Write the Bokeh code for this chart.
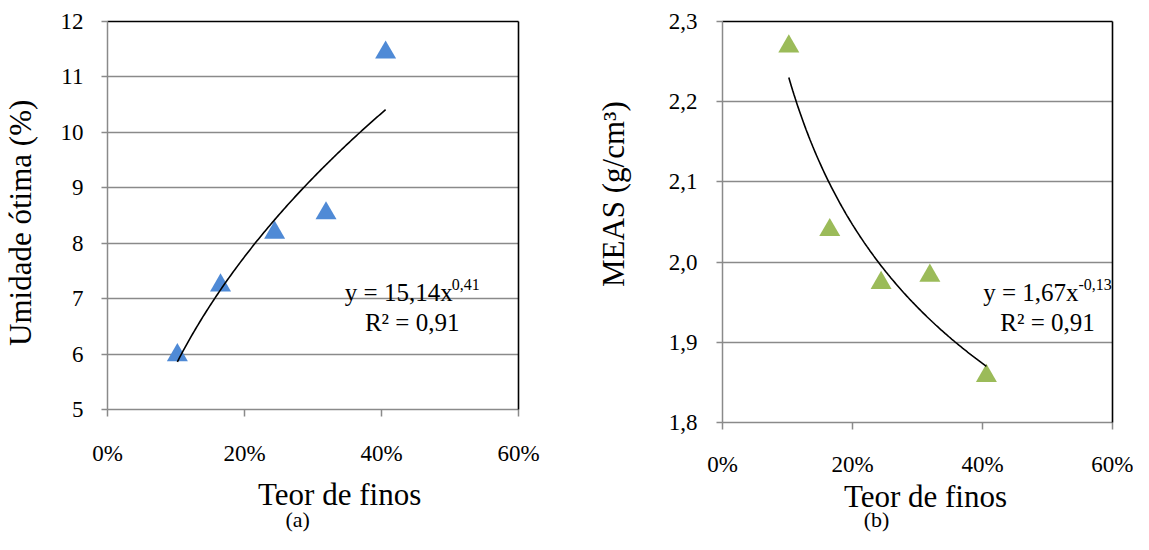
import json
import numpy as np
from bokeh.plotting import figure
from bokeh.layouts import row
from bokeh.models import (FixedTicker, NumeralTickFormatter, CustomJSTickFormatter,
                          LinearAxis, Label)
from bokeh.embed import file_html
from bokeh.resources import INLINE

# ---------------- data ----------------
teor_finos = [0.102, 0.165, 0.244, 0.319, 0.406]
umidade_otima = [5.98, 7.24, 8.19, 8.54, 11.44]
meas = [2.269, 2.040, 1.974, 1.983, 1.858]
x_ticks = [0.0, 0.2, 0.4, 0.6]
umidade_ticks = [5, 6, 7, 8, 9, 10, 11, 12]
meas_ticks = [1.8, 1.9, 2.0, 2.1, 2.2, 2.3]
eq_a = ["y = 15,14x", "0,41", "R² = 0,91"]
eq_b = ["y = 1,67x", "-0,13", "R² = 0,91"]
x_title = "Teor de finos"
y_title_a = "Umidade ótima (%)"
y_title_b = "MEAS (g/cm³)"
captions = ["(a)", "(b)"]

# ---------------- style ----------------
FONT = "Liberation Serif"
GRID = "#8a8a8a"
BLUE = "#4F8AD6"
GREEN = "#9BBB59"
TICK_FS = "23px"
LABEL_FS = "31px"
EQ_FS = "25px"
SUP_FS = "16px"
CAP_FS = "22px"
H = 534
W1 = 570
W2 = 1133 - W1


def power_fit(x, y):
    b, ln_a = np.polyfit(np.log(x), np.log(y), 1)
    xs = np.linspace(min(x), max(x), 150)
    return xs, np.exp(ln_a) * xs ** b


def base_fig(width, yr, ml, mr, mb, yticks, yfmt, xstand, ystand, xtick_out):
    p = figure(width=width, height=H, x_range=(0, 0.6), y_range=yr,
               output_backend="svg", toolbar_location=None,
               min_border_left=ml, min_border_right=mr,
               min_border_top=21, min_border_bottom=mb)
    try:
        p.frame_align = False
    except Exception:
        pass
    p.outline_line_color = None
    p.background_fill_color = "white"
    p.border_fill_color = "white"
    xa = p.xaxis[0]
    xa.ticker = FixedTicker(ticks=x_ticks)
    xa.formatter = NumeralTickFormatter(format="0%")
    ya = p.yaxis[0]
    ya.ticker = FixedTicker(ticks=yticks)
    if yfmt is not None:
        ya.formatter = yfmt
    for ax, st, to in ((xa, xstand, xtick_out), (ya, ystand, 6)):
        ax.axis_line_color = GRID
        ax.axis_line_width = 1.5
        ax.major_tick_line_color = GRID
        ax.major_tick_line_width = 1.5
        ax.major_tick_out = to
        ax.major_tick_in = 0
        ax.minor_tick_line_color = None
        ax.major_label_standoff = st
        ax.major_label_text_font = FONT
        ax.major_label_text_font_size = TICK_FS
        ax.major_label_text_color = "black"
    p.xgrid.visible = False
    p.ygrid.grid_line_color = GRID
    p.ygrid.grid_line_width = 1.3
    p.ygrid[0].ticker = FixedTicker(ticks=yticks)
    for side in ("above", "right"):
        b = LinearAxis(ticker=FixedTicker(ticks=[]), axis_line_color="black",
                       axis_line_width=1.6, major_tick_line_color=None,
                       minor_tick_line_color=None, major_tick_out=0,
                       major_tick_in=0, major_label_standoff=0,
                       major_label_text_font_size="0px")
        p.add_layout(b, side)
    return p


def text_axis(p, side, value, text, size, standoff, vertical=False):
    """An extra, line-less axis whose single tick label carries a title text."""
    ax = LinearAxis(ticker=FixedTicker(ticks=[value]),
                    formatter=CustomJSTickFormatter(
                        code="return " + json.dumps(text, ensure_ascii=False) + ";"),
                    axis_line_color=None, major_tick_line_color=None,
                    minor_tick_line_color=None, major_tick_out=0, major_tick_in=0,
                    minor_tick_out=0, minor_tick_in=0,
                    major_label_text_font=FONT, major_label_text_font_size=size,
                    major_label_text_color="black")
    try:
        ax.major_label_standoff = standoff
    except Exception:
        ax.major_label_standoff = 0
    if vertical:
        ax.major_label_orientation = "vertical"
    p.add_layout(ax, side)


def add_text(p, to_data, px, py, text, size, align="left"):
    x, y = to_data(px, py)
    p.add_layout(Label(x=x, y=y, text=text, text_font=FONT, text_font_size=size,
                       text_color="black", text_align=align,
                       text_baseline="alphabetic"))


# ---------------- chart (a) ----------------
p1 = base_fig(W1, (5, 12), 103, W1 - 103 - 415, H - 419, umidade_ticks, None,
              xstand=24, ystand=18, xtick_out=7)
p1.scatter(teor_finos, umidade_otima, marker="triangle", size=21,
           fill_color=BLUE, line_color=None)
fx, fy = power_fit(teor_finos, umidade_otima)
p1.line(fx, fy, line_color="black", line_width=1.6)


def a_data(px, py):
    # pixel -> data (frame: x 103..518, y 21..419)
    return (px - 103) / 415 * 0.6, 12 - (py - 21) / 398 * 7


add_text(p1, a_data, 342.6, 299, eq_a[0], EQ_FS)
add_text(p1, a_data, 450.5, 290.5, eq_a[1], SUP_FS)
add_text(p1, a_data, 410.6, 330, eq_a[2], EQ_FS, "center")
text_axis(p1, "below", a_data(337.4, 0)[0], x_title, LABEL_FS, 8)
text_axis(p1, "below", a_data(295, 0)[0], captions[0], CAP_FS, -8)
text_axis(p1, "left", a_data(0, 227.5)[1], y_title_a, LABEL_FS, 19, vertical=True)

# ---------------- chart (b) ----------------
yfmt = CustomJSTickFormatter(code="return tick.toFixed(1).replace('.', ',');")
p2 = base_fig(W2, (1.8, 2.3), 722 - W1, W2 - (722 - W1) - 390, H - 432, meas_ticks, yfmt,
              xstand=22, ystand=19, xtick_out=7)
p2.scatter(teor_finos, meas, marker="triangle", size=21,
           fill_color=GREEN, line_color=None)
gx, gy = power_fit(teor_finos, meas)
p2.line(gx, gy, line_color="black", line_width=1.6)


def b_data(px, py):
    # pixel -> data (frame: x 722..1112, y 21..432)
    return (px - 722) / 390 * 0.6, 2.3 - (py - 21) / 411 * 0.5


add_text(p2, b_data, 982.7, 299, eq_b[0], EQ_FS)
add_text(p2, b_data, 1078, 290.5, eq_b[1], SUP_FS)
add_text(p2, b_data, 1047, 330, eq_b[2], EQ_FS, "center")
text_axis(p2, "below", b_data(925, 0)[0], x_title, LABEL_FS, -1)
text_axis(p2, "below", b_data(876, 0)[0], captions[1], CAP_FS, -10)
text_axis(p2, "left", b_data(0, 198)[1], y_title_b, LABEL_FS, 34, vertical=True)

layout = row(p1, p2)
open("out.html", "w").write(file_html(layout, INLINE))
